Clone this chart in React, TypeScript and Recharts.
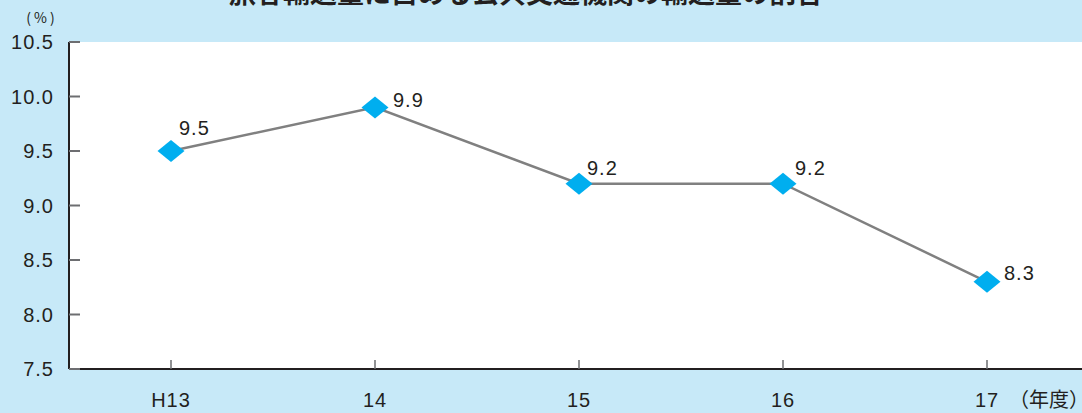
import { LineChart, Line, XAxis, YAxis, CartesianGrid } from 'recharts';

const years = ['H13', '14', '15', '16', '17'];
const shares = [9.5, 9.9, 9.2, 9.2, 8.3];
const yTicks = [7.5, 8.0, 8.5, 9.0, 9.5, 10.0, 10.5];

const data = years.map((year, i) => ({ year, share: shares[i] }));

// per-point nudges for the value labels (text start / baseline relative to the marker)
const labelNudge = [
  { dx: 8, dy: -16 },
  { dx: 18, dy: 0 },
  { dx: 8, dy: -9 },
  { dx: 12, dy: -9 },
  { dx: 17, dy: -2 },
];

const BG = '#c7e9f8';
const INK = '#231f20';
const FONT = '"Liberation Sans", Arial, sans-serif';
const JP = '"Noto Sans CJK JP", sans-serif';

const Diamond = (props: any) => {
  const { cx, cy } = props;
  if (cx == null || cy == null) return null;
  return (
    <polygon
      points={`${cx - 13.5},${cy} ${cx},${cy - 11} ${cx + 13.5},${cy} ${cx},${cy + 11}`}
      fill="#00aeef"
    />
  );
};

const ValueLabel = (props: any) => {
  const { x, y, value, index } = props;
  const n = labelNudge[index] || { dx: 10, dy: -8 };
  return (
    <text x={x + n.dx} y={y + n.dy} fontSize={20} fontFamily={FONT} fill={INK} letterSpacing={1}>
      {Number(value).toFixed(1)}
    </text>
  );
};

const YTick = (props: any) => {
  const { x, y, payload } = props;
  return (
    <g>
      <line x1={x} x2={x + 11} y1={y} y2={y} stroke="#6d6e71" strokeWidth={2} />
      <text x={x - 15} y={y + 7} textAnchor="end" fontSize={20} fontFamily={FONT} fill={INK} letterSpacing={1}>
        {Number(payload.value).toFixed(1)}
      </text>
    </g>
  );
};

const XTick = (props: any) => {
  const { x, y, payload } = props;
  return (
    <g>
      <line x1={x} x2={x} y1={y} y2={y - 9} stroke="#6d6e71" strokeWidth={1.5} />
      <text x={x} y={y + 38} textAnchor="middle" fontSize={20} fontFamily={FONT} fill={INK} letterSpacing={1}>
        {payload.value}
      </text>
    </g>
  );
};

export default function App() {
  return (
    <div
      style={{
        position: 'fixed',
        left: 0,
        top: 0,
        width: 1082,
        height: 413,
        overflow: 'hidden',
        background: BG,
      }}
    >
      <LineChart width={1100} height={413} data={data} margin={{ top: 42, right: 11, bottom: 0, left: 0 }}>
        <CartesianGrid horizontal={false} vertical={false} fill="#ffffff" />
        <XAxis
          dataKey="year"
          height={44}
          padding={{ left: 102, right: 102 }}
          axisLine={{ stroke: INK, strokeWidth: 2 }}
          tickLine={false}
          tickSize={0}
          tickMargin={0}
          tick={<XTick />}
          interval={0}
        />
        <YAxis
          width={69}
          domain={[7.5, 10.5]}
          ticks={yTicks}
          type="number"
          allowDataOverflow
          axisLine={{ stroke: INK, strokeWidth: 2 }}
          tickLine={false}
          tickSize={0}
          tickMargin={0}
          tick={<YTick />}
          interval={0}
        />
        <Line
          dataKey="share"
          stroke="#808080"
          strokeWidth={2.5}
          dot={<Diamond />}
          activeDot={false}
          label={<ValueLabel />}
          isAnimationActive={false}
        />
      </LineChart>
      <svg
        width={1082}
        height={413}
        style={{ position: 'absolute', left: 0, top: 0, pointerEvents: 'none' }}
      >
        <text x={526} y={3} textAnchor="middle" fontSize={27} fontWeight="bold" fontFamily={JP} fill={INK}>
          旅客輸送量に占める公共交通機関の輸送量の割合
        </text>
        <text x={42} y={23} textAnchor="middle" fontSize={14} fontFamily={JP} fill={INK} letterSpacing={3}>
          (%)
        </text>
        <text x={1009} y={407} fontSize={20} fontFamily={JP} fill={INK}>
          （年度）
        </text>
      </svg>
    </div>
  );
}
